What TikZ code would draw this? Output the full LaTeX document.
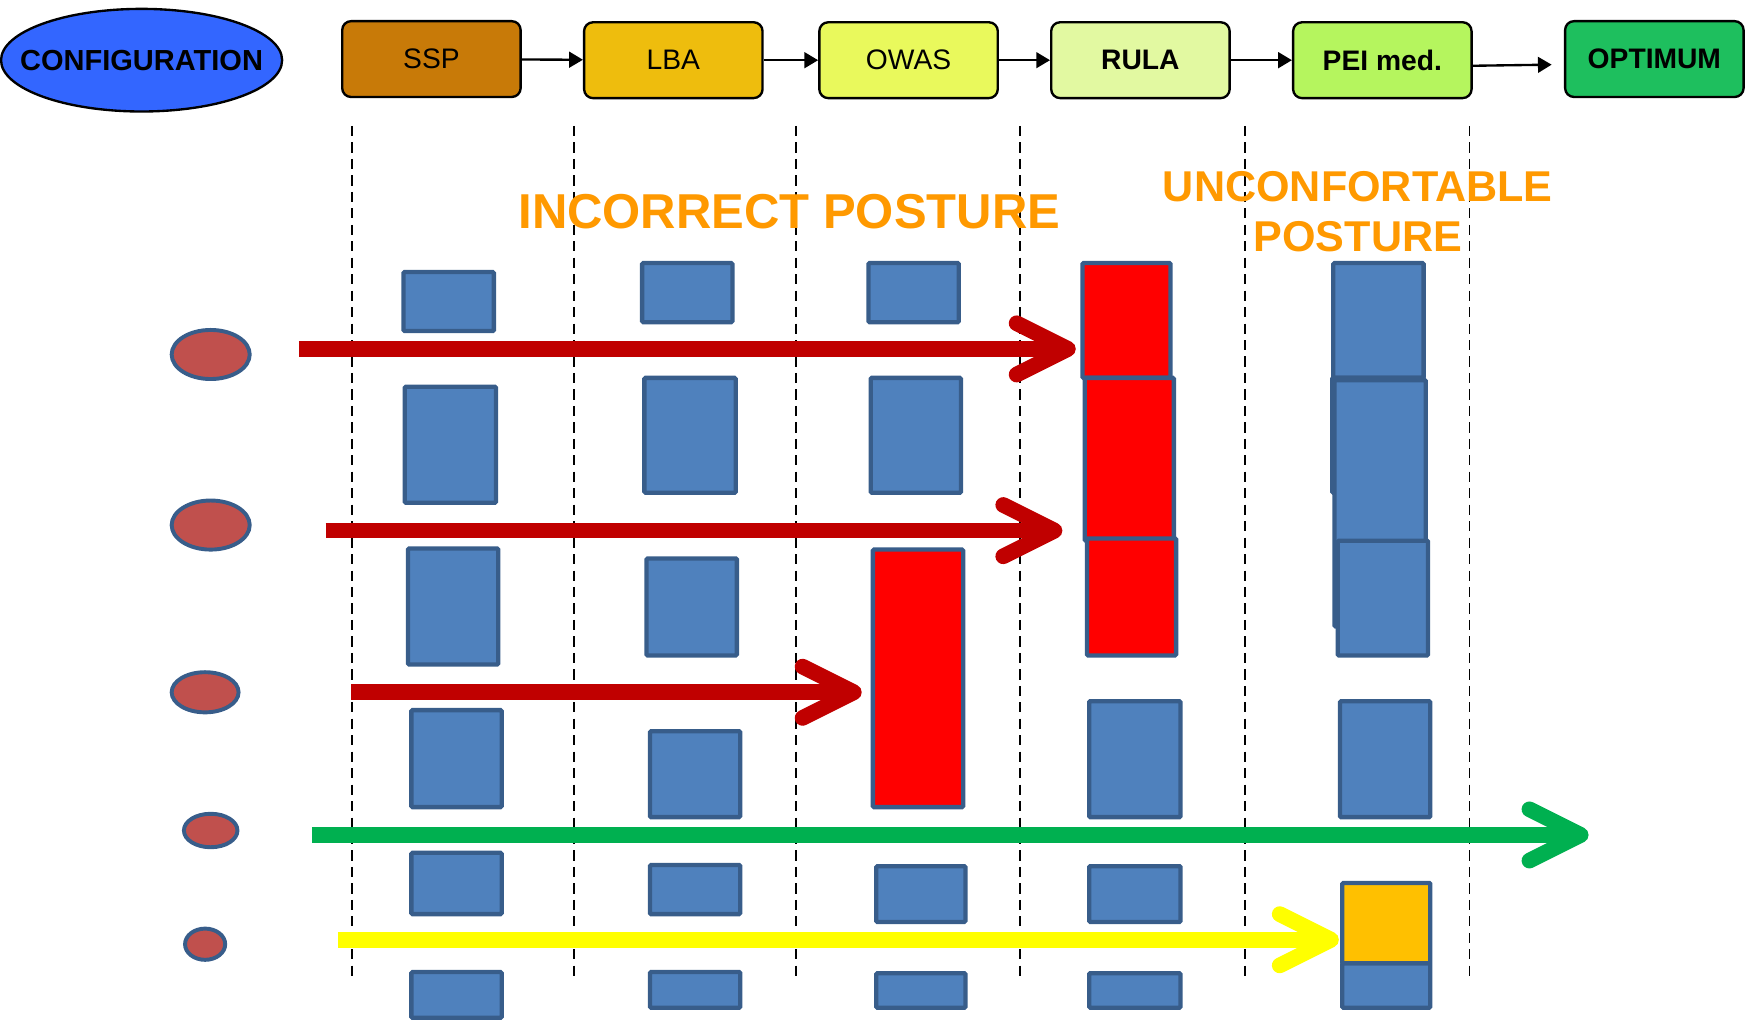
\documentclass[tikz,border=0pt]{standalone}
\usepackage{fontspec}
\setmainfont{Liberation Sans}
\usetikzlibrary{shapes.geometric, arrows.meta}

\definecolor{cfgblue}{HTML}{3366FF}
\definecolor{sspcol}{HTML}{C87A08}
\definecolor{lbacol}{HTML}{EEBD0D}
\definecolor{owascol}{HTML}{E9F95C}
\definecolor{rulacol}{HTML}{E2F9A1}
\definecolor{peicol}{HTML}{B5F55E}
\definecolor{optcol}{HTML}{1EBF5E}
\definecolor{titleorange}{HTML}{FF9900}
\definecolor{blkfill}{HTML}{4F81BD}
\definecolor{blkdraw}{HTML}{385D8A}
\definecolor{seatfill}{HTML}{C0504D}
\definecolor{darkred}{HTML}{C00000}
\definecolor{okgreen}{HTML}{00B050}
\definecolor{warnyellow}{HTML}{FFFF00}
\definecolor{warnorange}{HTML}{FFC000}

\begin{document}
\begin{tikzpicture}[
		x=0.01cm, y=-0.01cm,
		stage/.style={rectangle, draw, rounded corners=0.8mm, line width=0.6pt,
			minimum width=1.6cm, minimum height=0.68cm,
			font=\fontsize{7.2}{8.6}\selectfont},
		boldstage/.style={stage, font=\fontsize{7.2}{8.6}\selectfont\bfseries},
		flow/.style={-{Triangle[length=3.5pt, width=4pt]}, line width=0.6pt},
		guide/.style={line width=0.4pt, dash pattern=on 2.6pt off 1.6pt},
		seat/.style={ellipse, draw=blkdraw, fill=seatfill, line width=1pt, inner sep=0pt},
		blk/.style={draw=blkdraw, fill=blkfill, line width=1.1pt, rounded corners=0.3pt},
		hot/.style={blk, fill=red},
		track/.style={line width=4pt, -{Straight Barb[length=0.46cm, width=0.46cm, round]}},
		heading/.style={text=titleorange, font=\bfseries}
	]
  \useasboundingbox (0,0) rectangle (1568,916);

  % top row
  \coordinate (config_c) at (127,54);
  \draw[fill=cfgblue, line width=0.6pt] (config_c) ellipse [x radius=1.26cm, y radius=0.46cm];
  \node (config) [font=\fontsize{7.4}{8.6}\selectfont\bfseries] at (config_c) {CONFIGURATION};
  \node (ssp) [stage, fill=sspcol] at (387,53) {SSP};
  \node (lba) [stage, fill=lbacol] at (604,54) {LBA};
  \node (owas) [stage, fill=owascol] at (815,54) {OWAS};
  \node (rula) [boldstage, fill=rulacol] at (1023,54) {RULA};
  \node (pei) [boldstage, fill=peicol] at (1240,54) {PEI med.};
  \node (opt) [boldstage, fill=optcol] at (1484,53) {OPTIMUM};
  \draw[flow] (ssp) -- (lba);
  \draw[flow] (lba) -- (owas);
  \draw[flow] (owas) -- (rula);
  \draw[flow] (rula) -- (pei);
  \draw[flow] ([yshift=-0.05cm]pei.east) -- ([xshift=-0.11cm, yshift=-0.05cm]opt.west);

  % column guides
  \draw[guide] (316,113) -- (316,880);
  \draw[guide] (515,113) -- (515,880);
  \draw[guide] (714,113) -- (714,880);
  \draw[guide] (915,113) -- (915,880);
  \draw[guide] (1117,113) -- (1117,880);
  \draw[guide] (1318,113) -- (1318,880);

  % headings
  \node (incorrect) [heading, font=\fontsize{12.5}{14}\selectfont\bfseries] at (708,190) {INCORRECT POSTURE};
  \node (unconf) [heading, align=center, font=\fontsize{11}{12.8}\selectfont\bfseries] at (1218,190) {UNCONFORTABLE\\POSTURE};

  % SSP column
  \draw[blk] (362,244) rectangle (443,297);
  \draw[blk] (363,347) rectangle (445,451);
  \draw[blk] (366,492) rectangle (447,596);
  \draw[blk] (369,637) rectangle (450,724);
  \draw[blk] (369,765) rectangle (450,820);
  \draw[blk] (369,872) rectangle (450,913);
  % LBA column
  \draw[blk] (576,236) rectangle (657,289);
  \draw[blk] (578,339) rectangle (660,442);
  \draw[blk] (580,501) rectangle (661,588);
  \draw[blk] (583,656) rectangle (664,733);
  \draw[blk] (583,776) rectangle (664,820);
  \draw[blk] (583,872) rectangle (664,904);
  % OWAS column
  \draw[blk] (779,236) rectangle (860,289);
  \draw[blk] (781,339) rectangle (862,442);
  \draw[hot] (783,493) rectangle (864,724);
  \draw[blk] (786,777) rectangle (866,827);
  \draw[blk] (786,873) rectangle (866,904);
  % RULA column
  \draw[hot] (971,236) rectangle (1050,339);
  \draw[hot] (973,339) rectangle (1053,485);
  \draw[hot] (975,483) rectangle (1055,588);
  \draw[blk] (977,629) rectangle (1059,733);
  \draw[blk] (977,777) rectangle (1059,827);
  \draw[blk] (977,873) rectangle (1059,904);
  % PEI column
  \draw[blk] (1196,236) rectangle (1277,339);
  \draw[blk] (1195,339) rectangle (1277,442);
  \draw[blk] (1197,341) rectangle (1279,562);
  \draw[blk] (1200,485) rectangle (1281,588);
  \draw[blk] (1202,629) rectangle (1283,733);
  \draw[blk] (1204,864) rectangle (1283,904);
  \draw[blk, fill=warnorange] (1204,792) rectangle (1283,864);

  % configurations
  \node (seat_a) [seat, minimum width=0.7cm, minimum height=0.44cm] at (189,318) {};
  \node (seat_b) [seat, minimum width=0.7cm, minimum height=0.44cm] at (189,471) {};
  \node (seat_c) [seat, minimum width=0.6cm, minimum height=0.36cm] at (184,621) {};
  \node (seat_d) [seat, minimum width=0.48cm, minimum height=0.3cm] at (189,745) {};
  \node (seat_e) [seat, minimum width=0.36cm, minimum height=0.28cm] at (184,847) {};

  \coordinate (a_start) at (268,313);
  \coordinate (a_stop) at (965,313);
  \coordinate (b_start) at (292,476);
  \coordinate (b_stop) at (953,476);
  \coordinate (c_start) at (315,621);
  \coordinate (c_stop) at (773,621);
  \coordinate (d_start) at (280,749);
  \coordinate (d_stop) at (1425,749);
  \coordinate (e_start) at (303,843);
  \coordinate (e_stop) at (1201,843);
  \draw[track, darkred] (a_start) -- (a_stop);
  \draw[track, darkred] (b_start) -- (b_stop);
  \draw[track, darkred] (c_start) -- (c_stop);
  \draw[track, okgreen] (d_start) -- (d_stop);
  \draw[track, warnyellow] (e_start) -- (e_stop);
\end{tikzpicture}
\end{document}
